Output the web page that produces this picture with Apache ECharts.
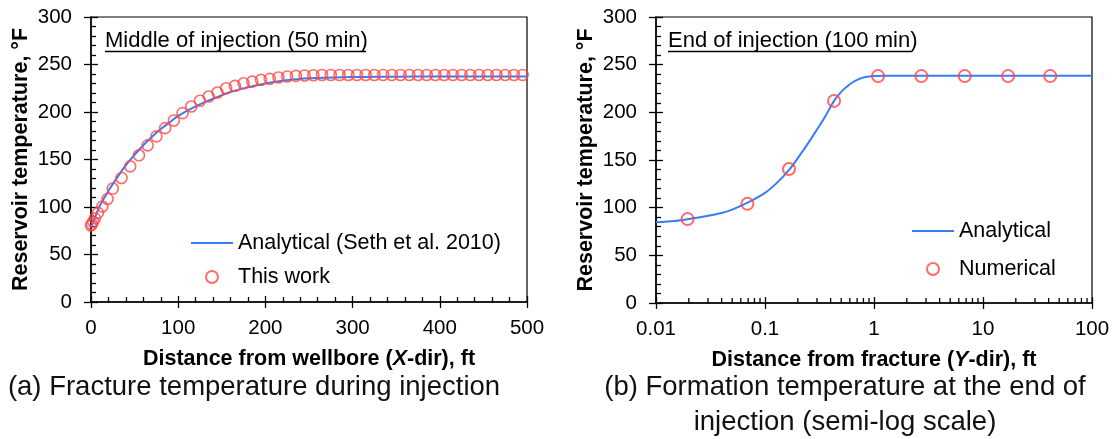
<!DOCTYPE html>
<html>
<head>
<meta charset="utf-8">
<script src="https://cdn.jsdelivr.net/npm/echarts@6/dist/echarts.min.js"></script>
<style>
html,body{margin:0;padding:0;background:#fff;}
#chart{width:1115px;height:439px;}
</style>
</head>
<body>
<div id="chart"></div>
<script>
// ---- Data (a): fracture temperature during injection (50 min)
const leftLineX = [0, 5, 10, 20, 30, 40, 50, 60, 70, 80, 90, 100, 120, 140, 160, 180, 200, 220, 250, 300, 350, 400, 450, 500];
const leftLineY = [79.5, 90, 101, 117, 131, 144, 155, 165, 174, 182, 189, 196, 206, 214, 221, 226, 230, 233, 235.5, 236.8, 237.2, 237.4, 237.5, 237.5];
const leftPtsX = [0, 1, 2.5, 4.5, 8, 13, 19, 25, 35, 45, 55, 65, 75, 85, 95, 105, 115, 125, 135, 145, 155, 165, 175, 185, 195, 205, 215, 225, 235, 245, 255, 265, 275, 285, 295, 305, 315, 325, 335, 345, 355, 365, 375, 385, 395, 405, 415, 425, 435, 445, 455, 465, 475, 485, 495];
const leftPtsY = [80.5, 82, 84.5, 88, 93.8, 100.5, 108.5, 119.4, 130.6, 142.8, 154.4, 164.9, 174.3, 183, 191.1, 198.8, 205.8, 211.8, 216.3, 220.5, 225, 227.5, 230.3, 232, 233.8, 234.9, 236.3, 237.3, 238, 238.4, 238.7, 239, 239, 239, 239, 239, 239, 239, 239, 239, 239, 239, 239, 239, 239, 239, 239, 239, 239, 239, 239, 239, 239, 239, 239];

// ---- Data (b): formation temperature at end of injection (100 min)
const rightLineX = [0.01, 0.015, 0.02, 0.03, 0.04, 0.05, 0.07, 0.1, 0.13, 0.17, 0.2, 0.25, 0.3, 0.35, 0.43, 0.5, 0.6, 0.7, 0.8, 0.9, 1, 1.3, 2, 100];
const rightLineY = [84.6, 86, 88, 91.5, 94.5, 98, 105.5, 115.5, 126.5, 141, 152, 168, 182, 194, 212, 221.5, 229.5, 234, 236.5, 237.6, 238, 238.3, 238.3, 238.3];
const rightPtsX = [0.0195, 0.069, 0.166, 0.43, 1.09, 2.72, 6.8, 17, 41.4];
const rightPtsY = [88, 104, 140.5, 212, 238, 238, 238, 238, 238];

// ---- Axis / tick labels
const yTickInterval = 50;
const leftXTickInterval = 100;
const logMinorTicks = [0.02,0.03,0.04,0.05,0.06,0.07,0.08,0.09, 0.2,0.3,0.4,0.5,0.6,0.7,0.8,0.9, 2,3,4,5,6,7,8,9, 20,30,40,50,60,70,80,90];

const names = {
  leftLine: 'Analytical (Seth et al. 2010)',
  leftPts: 'This work',
  rightLine: 'Analytical',
  rightPts: 'Numerical'
};

const FF = '"Liberation Sans", Arial, sans-serif';
const BLUE = '#3A7CF4';
const RED = '#FF4545';
const BLACK = '#000';

function zip(a, b) { return a.map((v, i) => [v, b[i]]); }

const axisLineStyle = { color: BLACK, width: 1.5 };
const tickLineStyle = { color: BLACK, width: 1.3 };
const labelStyle = { fontSize: 20.5, color: BLACK, fontFamily: FF };
const nameStyle = { fontSize: 21.5, fontWeight: 'bold', color: BLACK, fontFamily: FF };
const xNameRich = {
  b: { fontSize: 21.5, fontWeight: 'bold', color: BLACK, fontFamily: FF },
  i: { fontSize: 21.5, fontWeight: 'bold', fontStyle: 'italic', color: BLACK, fontFamily: FF }
};

function yMain(gi) {
  return {
    gridIndex: gi, type: 'value', min: 0, max: 300, interval: yTickInterval, position: 'left',
    axisLine: { show: true, onZero: false, lineStyle: axisLineStyle },
    axisTick: { show: true, inside: false, length: 7, lineStyle: tickLineStyle },
    axisLabel: Object.assign({ margin: 19 }, labelStyle),
    splitLine: { show: false },
    name: 'Reservoir temperature, °F', nameLocation: 'middle', nameGap: 59,
    nameTextStyle: nameStyle
  };
}
function yOverlay(gi) {
  return {
    gridIndex: gi, type: 'value', min: 0, max: 300, interval: yTickInterval, position: 'left',
    axisLine: { show: false, onZero: false },
    axisTick: { show: true, inside: true, length: 7, lineStyle: tickLineStyle },
    minorTick: { show: true, splitNumber: 5, length: 5, lineStyle: tickLineStyle },
    axisLabel: { show: false }, splitLine: { show: false }, minorSplitLine: { show: false }
  };
}

const legendText = { fontSize: 21.5, color: BLACK, fontFamily: FF, lineHeight: 24 };

const option = {
  animation: false,
  backgroundColor: '#fff',
  grid: [
    { left: 91, top: 17, width: 436, height: 285, show: true, borderColor: BLACK, borderWidth: 1.2, backgroundColor: 'transparent', outerBoundsMode: 'none' },
    { left: 656, top: 17, width: 436, height: 286, show: true, borderColor: BLACK, borderWidth: 1.2, backgroundColor: 'transparent', outerBoundsMode: 'none' }
  ],
  legend: [
    {
      data: [{ name: names.leftLine, itemStyle: { opacity: 0 } }, { name: names.leftPts }],
      orient: 'vertical', left: 190, top: 231,
      itemWidth: 42, itemHeight: 12, itemGap: 10, padding: 0, selectedMode: false,
      textStyle: legendText
    },
    {
      data: [{ name: names.rightLine, itemStyle: { opacity: 0 } }, { name: names.rightPts }],
      orient: 'vertical', left: 911, top: 219,
      itemWidth: 42, itemHeight: 12, itemGap: 14, padding: 0, selectedMode: false,
      textStyle: legendText
    }
  ],
  xAxis: [
    {
      gridIndex: 0, type: 'value', min: 0, max: 500, interval: leftXTickInterval, position: 'bottom',
      axisLine: { show: true, onZero: false, lineStyle: axisLineStyle },
      axisTick: { show: true, inside: false, length: 6, lineStyle: tickLineStyle },
      axisLabel: Object.assign({ margin: 16, showMinLabel: true, showMaxLabel: true }, labelStyle),
      splitLine: { show: false },
      name: '{b|Distance from wellbore (}{i|X}{b|-dir), ft}', nameLocation: 'middle', nameGap: 46,
      nameTextStyle: { rich: xNameRich }
    },
    {
      gridIndex: 0, type: 'value', min: 0, max: 500, interval: leftXTickInterval, position: 'bottom',
      axisLine: { show: false, onZero: false },
      axisTick: { show: true, inside: true, length: 6, lineStyle: tickLineStyle },
      minorTick: { show: true, splitNumber: 5, length: 5, lineStyle: tickLineStyle },
      axisLabel: { show: false }, splitLine: { show: false }, minorSplitLine: { show: false }
    },
    {
      gridIndex: 1, type: 'log', logBase: 10, min: 0.01, max: 100, position: 'bottom',
      axisLine: { show: true, onZero: false, lineStyle: axisLineStyle },
      axisTick: { show: true, inside: false, length: 6, lineStyle: tickLineStyle },
      axisLabel: Object.assign({ margin: 16, showMinLabel: true, showMaxLabel: true,
        formatter: v => String(+(+v).toPrecision(6)) }, labelStyle),
      splitLine: { show: false }, minorTick: { show: false },
      name: '{b|Distance from fracture (}{i|Y}{b|-dir), ft}', nameLocation: 'middle', nameGap: 46,
      nameTextStyle: { rich: xNameRich }
    },
    {
      gridIndex: 1, type: 'log', logBase: 10, min: 0.01, max: 100, position: 'bottom',
      axisLine: { show: false, onZero: false },
      axisTick: { show: true, inside: true, length: 6, lineStyle: tickLineStyle },
      axisLabel: { show: false }, splitLine: { show: false }, minorTick: { show: false }
    }
  ],
  yAxis: [yMain(0), yOverlay(0), yMain(1), yOverlay(1)],
  series: [
    {
      name: names.leftLine, type: 'line', xAxisIndex: 0, yAxisIndex: 0,
      data: zip(leftLineX, leftLineY), symbol: 'none', smooth: 0.4,
      lineStyle: { color: BLUE, width: 2 }, itemStyle: { color: BLUE }, z: 2
    },
    {
      name: names.leftPts, type: 'scatter', xAxisIndex: 0, yAxisIndex: 0,
      data: zip(leftPtsX, leftPtsY), symbol: 'circle', symbolSize: 11,
      itemStyle: { color: 'rgba(255,255,255,0)', borderColor: RED, borderWidth: 1.6 }, z: 3
    },
    {
      name: names.rightLine, type: 'line', xAxisIndex: 2, yAxisIndex: 2,
      data: zip(rightLineX, rightLineY), symbol: 'none', smooth: 0.3,
      lineStyle: { color: BLUE, width: 2 }, itemStyle: { color: BLUE }, z: 2
    },
    {
      name: names.rightPts, type: 'scatter', xAxisIndex: 2, yAxisIndex: 2,
      data: zip(rightPtsX, rightPtsY), symbol: 'circle', symbolSize: 12,
      itemStyle: { color: 'rgba(255,255,255,0)', borderColor: RED, borderWidth: 2 }, z: 3
    },
    {
      name: 'log minor ticks', type: 'custom', xAxisIndex: 2, yAxisIndex: 2, silent: true,
      data: logMinorTicks.map(v => [v, 0]), clip: false,
      renderItem: function (params, api) {
        const p = api.coord([api.value(0), 0]);
        return { type: 'line', shape: { x1: p[0], y1: p[1], x2: p[0], y2: p[1] - 5 },
                 style: { stroke: BLACK, lineWidth: 1.3 } };
      }, z: 4
    }
  ],
  graphic: [
    { type: 'text', x: 105, y: 41, style: { text: 'Middle of injection (50 min)', fontSize: 22, fontFamily: FF, fill: BLACK, textVerticalAlign: 'middle' } },
    { type: 'line', shape: { x1: 105, y1: 51.5, x2: 366, y2: 51.5 }, style: { stroke: BLACK, lineWidth: 1.5 } },
    { type: 'text', x: 668, y: 41, style: { text: 'End of injection (100 min)', fontSize: 22, fontFamily: FF, fill: BLACK, textVerticalAlign: 'middle' } },
    { type: 'line', shape: { x1: 668, y1: 51.5, x2: 912, y2: 51.5 }, style: { stroke: BLACK, lineWidth: 1.5 } },
    { type: 'text', x: 254, y: 387, style: { text: '(a) Fracture temperature during injection', fontSize: 27.5, fontFamily: FF, fill: '#111', textAlign: 'center', textVerticalAlign: 'middle' } },
    { type: 'text', x: 845, y: 404.5, style: { text: '(b) Formation temperature at the end of\ninjection (semi-log scale)', fontSize: 27.5, lineHeight: 35, fontFamily: FF, fill: '#111', textAlign: 'center', textVerticalAlign: 'middle' } }
  ]
};

const chart = echarts.init(document.getElementById('chart'), null, { renderer: 'canvas' });
chart.setOption(option);
</script>
</body>
</html>
